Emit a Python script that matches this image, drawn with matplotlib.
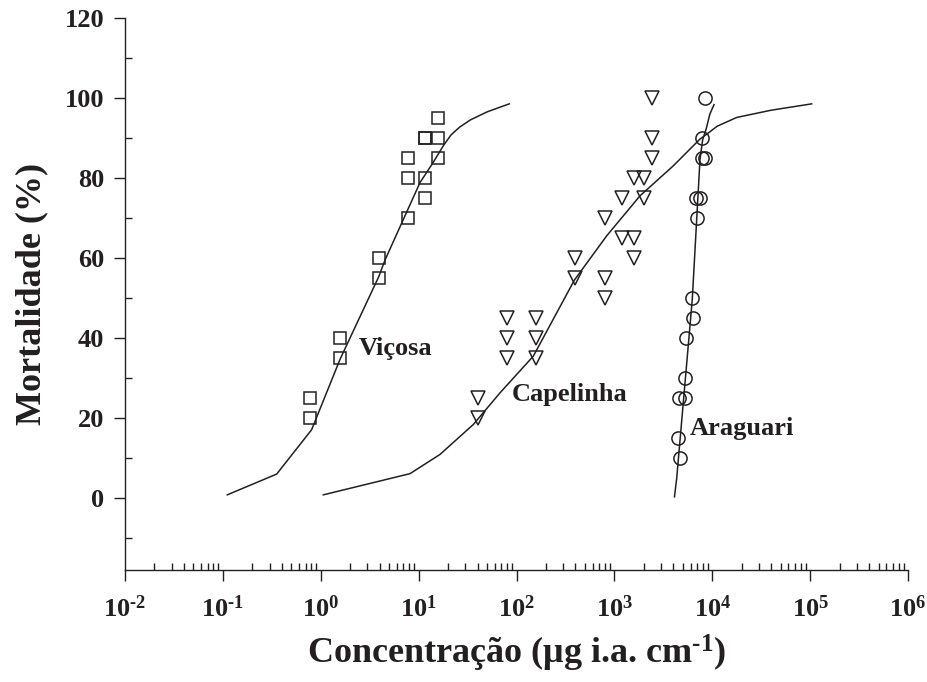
import numpy as np
import matplotlib
matplotlib.use("Agg")
import matplotlib.pyplot as plt
from matplotlib.ticker import FixedLocator, FixedFormatter, LogLocator, NullFormatter

plt.rcParams['font.family'] = ['Liberation Serif', 'DejaVu Serif']
plt.rcParams['font.weight'] = 'bold'
plt.rcParams['mathtext.fontset'] = 'custom'
plt.rcParams['mathtext.rm'] = 'Liberation Serif:bold'
plt.rcParams['mathtext.bf'] = 'Liberation Serif:bold'
plt.rcParams['mathtext.it'] = 'Liberation Serif:bold'
plt.rcParams['mathtext.default'] = 'rm'

INK = '#231f20'

# --- observed data -------------------------------------------------------
vicosa_x = [0.78, 0.78, 1.56, 1.56, 3.9, 3.9, 7.8, 7.8, 7.8, 11.7, 11.7, 11.7, 11.7, 15.6, 15.6, 15.6]
vicosa_y = [20, 25, 35, 40, 55, 60, 70, 80, 85, 75, 80, 90, 90, 85, 90, 95]

capel_x = [40, 40, 80, 80, 80, 160, 160, 160, 400, 400, 800, 800, 800,
           1200, 1200, 1600, 1600, 1600, 2000, 2000, 2400, 2400, 2400]
capel_y = [20, 25, 35, 40, 45, 35, 40, 45, 55, 60, 50, 55, 70,
           65, 75, 60, 65, 80, 75, 80, 85, 90, 100]

arag_x = [4700, 4500, 4600, 5300, 5300, 5400, 6400, 6250, 7000, 6900, 7500, 7800, 8500, 7800, 8500]
arag_y = [10, 15, 25, 25, 30, 40, 45, 50, 70, 75, 75, 85, 85, 90, 100]

# --- fitted response curves (log10 concentration) ----
vicosa_curve_logx = [-0.955, -0.450, -0.212, -0.093, 0.197, 0.595, 0.656, 0.844, 1.014,
                     1.150, 1.252, 1.330, 1.420, 1.530, 1.700, 1.926]
vicosa_curve_y = [0.8, 6.0, 13.4, 17.1, 34.7, 55.5, 59.5, 69.7, 78.9,
                  84.0, 88.1, 90.8, 92.8, 94.6, 96.6, 98.6]

capel_curve_logx = [0.026, 0.912, 1.218, 1.559, 1.831, 2.172, 2.591, 2.922, 3.262, 3.602,
                    3.875, 3.943, 4.050, 4.250, 4.600, 5.016]
capel_curve_y = [0.8, 6.1, 10.9, 18.4, 26.3, 35.5, 54.5, 65.6, 75.6, 83.1,
                 89.8, 91.0, 93.0, 95.2, 97.0, 98.6]

arag_curve_logx = [3.614, 3.637, 3.796, 3.841, 3.875, 3.902, 3.940, 3.975, 4.018]
arag_curve_y = [0.3, 5.0, 49.7, 69.7, 84.8, 89.6, 92.5, 96.0, 98.4]

x_tick_labels = [r'$10^{\text{-}2}$', r'$10^{\text{-}1}$', r'$10^{0}$', r'$10^{1}$', r'$10^{2}$',
                 r'$10^{3}$', r'$10^{4}$', r'$10^{5}$', r'$10^{6}$']
y_ticks = [0, 20, 40, 60, 80, 100, 120]

labels = ['Viçosa', 'Capelinha', 'Araguari']
label_x = [2.42, 89.3, 5830]
label_y = [37.5, 26.0, 17.5]

# --- figure ----------------------------------------------------------------
fig = plt.figure(figsize=(9.27, 6.82), dpi=100)
ax = fig.add_axes([125/927, 1-570/682, (908-125)/927, (570-18.3)/682])

ax.set_xscale('log')
ax.set_xlim(1e-2, 1e6)
ax.set_ylim(-18, 120)

lw = 1.1
ax.plot(10**np.array(vicosa_curve_logx), vicosa_curve_y, color=INK, lw=lw)
ax.plot(10**np.array(capel_curve_logx), capel_curve_y, color=INK, lw=lw)
ax.plot(10**np.array(arag_curve_logx), arag_curve_y, color=INK, lw=lw)

mk = dict(linestyle='none', markerfacecolor='none', markeredgecolor=INK, markeredgewidth=1.1)
ax.plot(vicosa_x, vicosa_y, marker='s', markersize=9, **mk)
ax.plot(capel_x, capel_y, marker='v', markersize=9.5, **mk)
ax.plot(arag_x, arag_y, marker='o', markersize=9.5, **mk)

for t, xx, yy in zip(labels, label_x, label_y):
    ax.text(xx, yy, t, ha='left', va='center', fontsize=19, fontweight='bold', color=INK)

# axes style
for s in ['top', 'right']:
    ax.spines[s].set_visible(False)
for s in ['left', 'bottom']:
    ax.spines[s].set_color(INK)
    ax.spines[s].set_linewidth(1.0)

ax.xaxis.set_major_locator(FixedLocator([10.0**k for k in range(-2, 7)]))
ax.xaxis.set_major_formatter(FixedFormatter(x_tick_labels))
ax.xaxis.set_minor_locator(LogLocator(base=10, subs=np.arange(2, 10), numticks=20))
ax.xaxis.set_minor_formatter(NullFormatter())
ax.tick_params(axis='x', which='major', direction='out', length=8, width=1.0, color=INK,
               labelsize=19, pad=10, labelcolor=INK)
ax.tick_params(axis='x', which='minor', direction='in', length=5, width=1.0, color=INK)

ax.yaxis.set_major_locator(FixedLocator(y_ticks))
ax.yaxis.set_minor_locator(FixedLocator([-10, 10, 30, 50, 70, 90, 110]))
ax.tick_params(axis='y', which='major', direction='out', length=8, width=1.0, color=INK,
               labelsize=19, pad=7, labelcolor=INK)
ax.tick_params(axis='y', which='minor', direction='in', length=5, width=1.0, color=INK)
for lab in ax.get_yticklabels():
    lab.set_fontweight('bold')

ax.set_xlabel('Concentração (μg i.a. cm$^{\\text{-}1}$)', fontsize=26, fontweight='bold',
              color=INK, labelpad=8)
ax.set_ylabel('Mortalidade (%)', fontsize=26, fontweight='bold', color=INK, labelpad=12)

fig.savefig('out.png', dpi=100)
